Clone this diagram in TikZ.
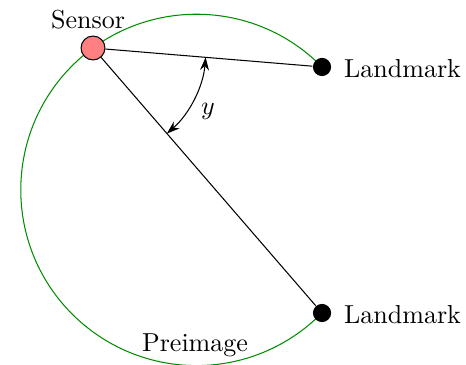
\documentclass[tikz,border=0pt]{standalone}
\usetikzlibrary{arrows.meta,calc}
\begin{document}
\begin{tikzpicture}[x=0.3846pt,y=-0.3846pt,
  landmark/.style={circle,fill=black,inner sep=0pt,minimum size=7pt},
  sensorbox/.style={circle,draw=black,fill=red!50,inner sep=0pt,minimum size=9.2pt},
  lbl/.style={font=\normalsize},
  angtip/.style={{Stealth[length=5pt,width=3.4pt]}-{Stealth[length=5pt,width=3.4pt]}}]
\useasboundingbox (0,0) rectangle (466,365);
\draw[green!55!black] (322,67) arc[start angle=44.4,end angle=315.6,radius=175.7*0.3846pt];
\node[sensorbox] (s) at (93,48) {};
\node[landmark] (l1) at (322,67) {};
\node[landmark] (l2) at (322,313) {};
\draw (s) -- (l1);
\draw (s) -- (l2);
\draw[angtip] (s.center) ++(-4.7:113*0.3846pt) arc[start angle=-4.7,end angle=-49.2,radius=113*0.3846pt];
\node[lbl] (sl) at (88,20) {Sensor};
\node[lbl,anchor=west] (t1) at (335,69) {Landmark};
\node[lbl,anchor=west] (t2) at (335,315) {Landmark};
\node[lbl] (yl) at (208,111) {$y$};
\node[lbl] (pl) at (195,345) {Preimage};
\end{tikzpicture}
\end{document}
